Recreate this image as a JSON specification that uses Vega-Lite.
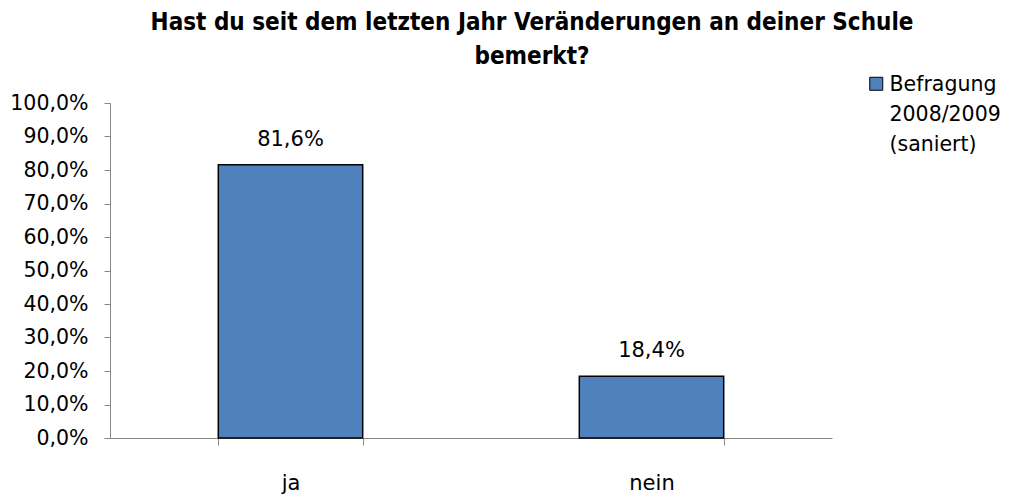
{
  "$schema": "https://vega.github.io/schema/vega-lite/v6.json",
  "width": 722,
  "height": 335,
  "autosize": {"type": "none"},
  "padding": {"left": 110, "top": 103, "right": 179, "bottom": 57},
  "background": "white",
  "title": {
    "text": ["Hast du seit dem letzten Jahr Veränderungen an deiner Schule", "bemerkt?"],
    "font": "DejaVu Sans Condensed, DejaVu Sans",
    "fontSize": 24,
    "fontWeight": "bold",
    "color": "#000000",
    "lineHeight": 34,
    "anchor": "middle",
    "dx": 61,
    "offset": 12
  },
  "data": {
    "values": [
      {"antwort": "ja", "anteil": 0.816, "serie": "Befragung 2008/2009 (saniert)"},
      {"antwort": "nein", "anteil": 0.184, "serie": "Befragung 2008/2009 (saniert)"}
    ]
  },
  "encoding": {
    "x": {
      "field": "antwort",
      "type": "nominal",
      "sort": ["ja", "nein"],
      "scale": {"paddingInner": 0.6, "paddingOuter": 0.3},
      "axis": {
        "title": null,
        "labelAngle": 0,
        "ticks": true,
        "tickBand": "extent",
        "domainColor": "#868686",
        "tickColor": "#868686",
        "tickWidth": 1,
        "tickSize": 7,
        "labelFont": "DejaVu Sans",
        "labelFontSize": 21,
        "labelColor": "#000000",
        "labelPadding": 27
      }
    },
    "y": {
      "field": "anteil",
      "type": "quantitative",
      "scale": {"domain": [0, 1]},
      "axis": {
        "title": null,
        "values": [0, 0.1, 0.2, 0.3, 0.4, 0.5, 0.6, 0.7, 0.8, 0.9, 1],
        "labelExpr": "replace(format(datum.value, '.1%'), '.', ',')",
        "grid": false,
        "ticks": true,
        "domainColor": "#868686",
        "tickColor": "#868686",
        "tickWidth": 1,
        "tickSize": 6,
        "labelFont": "DejaVu Sans",
        "labelFontSize": 20.5,
        "labelColor": "#000000",
        "labelPadding": 16
      }
    }
  },
  "layer": [
    {
      "mark": {"type": "bar", "stroke": "#000000", "strokeWidth": 1.5},
      "encoding": {
        "color": {
          "field": "serie",
          "type": "nominal",
          "scale": {"range": ["#4F81BD"]},
          "legend": {
            "title": null,
            "orient": "none",
            "legendX": 756,
            "legendY": -22,
            "symbolType": "M-1,-2.15H1V-0.15H-1Z",
            "symbolSize": 169,
            "symbolStrokeColor": "#000000",
            "symbolStrokeWidth": 1,
            "labelFont": "DejaVu Sans",
            "labelFontSize": 20.5,
            "labelColor": "#000000",
            "labelOffset": 3,
            "labelLimit": 200,
            "labelBaseline": "alphabetic",
            "labelExpr": "['Befragung', '2008/2009', '(saniert)']"
          }
        }
      }
    },
    {
      "mark": {"type": "text", "dy": -25, "font": "DejaVu Sans", "fontSize": 21, "color": "#000000"},
      "encoding": {
        "text": {"field": "anteil", "type": "quantitative", "format": ".1%"}
      }
    }
  ],
  "config": {
    "view": {"stroke": null},
    "style": {"guide-label": {"lineHeight": 30}},
    "locale": {"number": {"decimal": ",", "thousands": ".", "grouping": [3], "currency": ["", " €"], "percent": "%"}}
  }
}
